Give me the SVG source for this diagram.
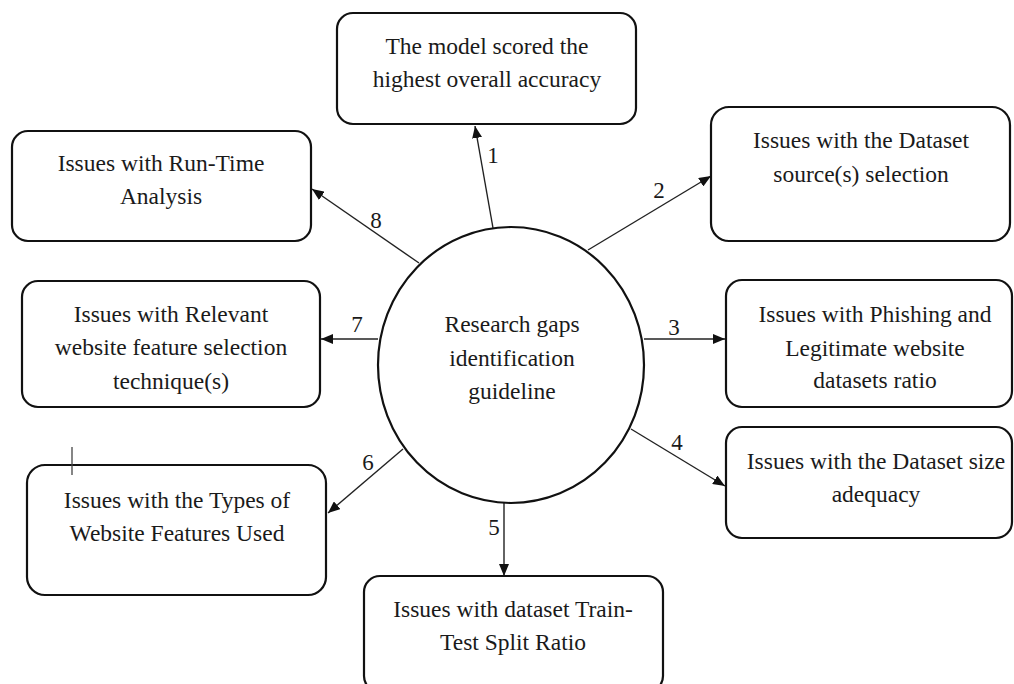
<svg xmlns="http://www.w3.org/2000/svg" width="1014" height="684" viewBox="0 0 1014 684">
<defs>
<style>
.box{fill:#fff;stroke:#111;stroke-width:2.2}
.t{font-size:23.5px;fill:#1a1a1a;text-anchor:middle}
.n{font-size:23px;fill:#1a1a1a;text-anchor:middle}
.c{stroke:#222;stroke-width:1.4;fill:none;marker-end:url(#ah)}
</style>
<marker id="ah" viewBox="0 0 12 10" refX="12" refY="5" markerWidth="12" markerHeight="10" markerUnits="userSpaceOnUse" orient="auto">
<path d="M0,0 L12,5 L0,10 Z" fill="#111"/>
</marker>
</defs>
<rect width="1014" height="684" fill="#fff"/>
<g font-family="Liberation Serif, serif">
<g id="connectors">
<line class="c" x1="493" y1="228" x2="475" y2="126"/>
<line class="c" x1="588" y1="250" x2="711" y2="176"/>
<line class="c" x1="644" y1="339" x2="725" y2="339"/>
<line class="c" x1="631" y1="429" x2="725" y2="486"/>
<line class="c" x1="504" y1="503" x2="504" y2="576"/>
<line class="c" x1="403" y1="449" x2="328" y2="513"/>
<line class="c" x1="378" y1="339" x2="321" y2="339"/>
<line class="c" x1="419" y1="263" x2="312" y2="189"/>
<text class="n" x="493" y="163">1</text>
<text class="n" x="659" y="198">2</text>
<text class="n" x="674" y="335">3</text>
<text class="n" x="677" y="450">4</text>
<text class="n" x="494" y="535">5</text>
<text class="n" x="368" y="470">6</text>
<text class="n" x="357" y="332">7</text>
<text class="n" x="376" y="228">8</text>
</g>
<g id="center">
<ellipse class="box" cx="511" cy="365" rx="133" ry="138"/>
<text class="t" x="512" y="332">Research gaps</text>
<text class="t" x="512" y="366">identification</text>
<text class="t" x="512" y="399">guideline</text>
</g>
<g id="n1">
<rect class="box" x="337" y="13" width="299" height="111" rx="16"/>
<text class="t" x="487" y="54">The model scored the</text>
<text class="t" x="487" y="87">highest overall accuracy</text>
</g>
<g id="n2">
<rect class="box" x="711" y="107" width="299" height="134" rx="18"/>
<text class="t" x="861" y="148">Issues with the Dataset</text>
<text class="t" x="861" y="182">source(s) selection</text>
</g>
<g id="n3">
<rect class="box" x="726" y="280" width="286" height="127" rx="16"/>
<text class="t" x="875" y="322">Issues with Phishing and</text>
<text class="t" x="875" y="356">Legitimate website</text>
<text class="t" x="875" y="388">datasets ratio</text>
</g>
<g id="n4">
<rect class="box" x="726" y="427" width="286" height="111" rx="16"/>
<text class="t" x="876" y="469">Issues with the Dataset size</text>
<text class="t" x="876" y="502">adequacy</text>
</g>
<g id="n5">
<rect class="box" x="364" y="576" width="299" height="116" rx="16"/>
<text class="t" x="513" y="617">Issues with dataset Train-</text>
<text class="t" x="513" y="650">Test Split Ratio</text>
</g>
<g id="n6">
<rect class="box" x="27" y="465" width="299" height="130" rx="18"/>
<text class="t" x="177" y="508">Issues with the Types of</text>
<text class="t" x="177" y="541">Website Features Used</text>
<line x1="72" y1="447" x2="72" y2="475" stroke="#444" stroke-width="1.3"/>
</g>
<g id="n7">
<rect class="box" x="22" y="281" width="298" height="126" rx="16"/>
<text class="t" x="171" y="322">Issues with Relevant</text>
<text class="t" x="171" y="355">website feature selection</text>
<text class="t" x="171" y="389">technique(s)</text>
</g>
<g id="n8">
<rect class="box" x="12" y="131" width="299" height="110" rx="16"/>
<text class="t" x="161" y="171">Issues with Run-Time</text>
<text class="t" x="161" y="204">Analysis</text>
</g>
</g>
</svg>
